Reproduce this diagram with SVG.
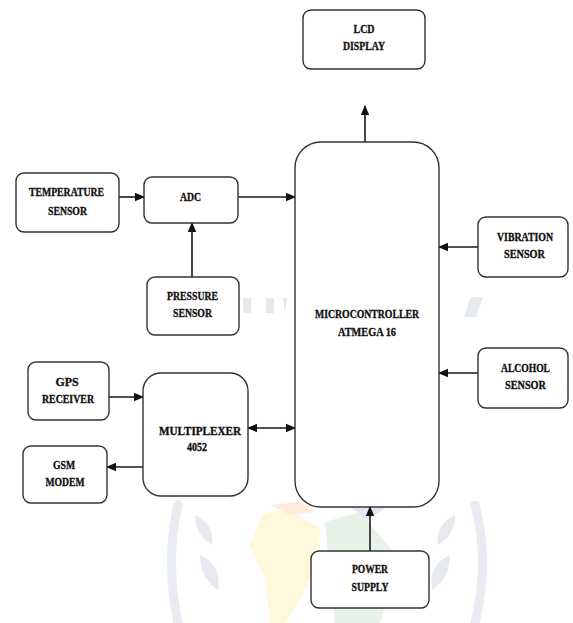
<svg xmlns="http://www.w3.org/2000/svg" width="573" height="623" viewBox="0 0 573 623">
  <style>
    .box { fill: #ffffff; stroke: #333333; stroke-width: 1.4; }
    .lbl { font-family: "Liberation Serif", "Times New Roman", serif; font-weight: bold; font-size: 12px; fill: #111111; stroke: #111111; stroke-width: 0.35; text-anchor: middle; }
    .wire { fill: none; stroke: #1a1a1a; stroke-width: 1.6; }
    .wm-grey { fill: #e2e6eb; }
    .wm-leaf { fill: none; stroke: #e5e9ee; stroke-width: 9; stroke-linecap: round; }
  </style>
  <defs>
    <marker id="arrow" markerUnits="userSpaceOnUse" markerWidth="10" markerHeight="10" viewBox="0 0 10 10" refX="9" refY="5" orient="auto">
      <path d="M0,0.8 L10,5 L0,9.2 Z" fill="#111111"/>
    </marker>
    <marker id="arrowStart" markerUnits="userSpaceOnUse" markerWidth="10" markerHeight="10" viewBox="0 0 10 10" refX="1" refY="5" orient="auto">
      <path d="M10,0.8 L0,5 L10,9.2 Z" fill="#111111"/>
    </marker>
  </defs>

  <rect width="573" height="623" fill="#ffffff"/>

  <!-- faint background emblem -->
  <g id="emblem" opacity="0.85">
    <rect class="wm-grey" x="243" y="298" width="8" height="15"/>
    <rect class="wm-grey" x="266" y="298" width="8" height="15"/>
    <path class="wm-grey" d="M283,298 L287,298 L285,313 Z"/>
    <path class="wm-grey" d="M471,297 L483,297 L476,317 L464,317 Z"/>
    <path fill="#fff7d6" d="M262,515 Q285,505 305,520 L320,528 L318,560 L300,600 L285,623 L270,623 L265,580 L250,545 Z"/>
    <path fill="#fde9d6" d="M270,505 L300,502 L315,512 L290,515 Z"/>
    <path fill="#e3f2e6" d="M325,522 L360,512 L400,560 L380,623 L335,623 Z"/>
    <path fill="#dfe2f3" d="M352,508 L385,508 L368,520 Z"/>
    <path class="wm-leaf" d="M178,505 Q165,560 178,623"/>
    <path class="wm-leaf" d="M475,505 Q490,560 475,623"/>
    <path class="wm-grey" d="M195,515 Q215,525 212,545 Q195,535 195,515 Z"/>
    <path class="wm-grey" d="M200,555 Q222,565 218,590 Q200,578 200,555 Z"/>
    <path class="wm-grey" d="M455,515 Q435,525 438,545 Q455,535 455,515 Z"/>
    <path class="wm-grey" d="M450,555 Q428,565 432,590 Q450,578 450,555 Z"/>
  </g>

  <!-- connectors -->
  <g id="connectors">
    <line class="wire" x1="365" y1="142" x2="365" y2="106" marker-end="url(#arrow)"/>
    <line class="wire" x1="119" y1="197" x2="144" y2="197" marker-end="url(#arrow)"/>
    <line class="wire" x1="238" y1="197" x2="295" y2="197" marker-end="url(#arrow)"/>
    <line class="wire" x1="192" y1="277" x2="192" y2="223" marker-end="url(#arrow)"/>
    <line class="wire" x1="109" y1="397" x2="143" y2="397" marker-end="url(#arrow)"/>
    <line class="wire" x1="143" y1="467" x2="107" y2="467" marker-end="url(#arrow)"/>
    <line class="wire" x1="248" y1="428" x2="295" y2="428" marker-start="url(#arrowStart)" marker-end="url(#arrow)"/>
    <line class="wire" x1="478" y1="247" x2="439" y2="247" marker-end="url(#arrow)"/>
    <line class="wire" x1="478" y1="373" x2="439" y2="373" marker-end="url(#arrow)"/>
    <line class="wire" x1="370" y1="551" x2="370" y2="507" marker-end="url(#arrow)"/>
  </g>

  <g id="lcd">
    <rect class="box" x="303" y="10" width="122" height="59" rx="8"/>
    <text class="lbl" x="364" y="33" textLength="21" lengthAdjust="spacingAndGlyphs">LCD</text>
    <text class="lbl" x="364" y="50" textLength="42" lengthAdjust="spacingAndGlyphs">DISPLAY</text>
  </g>

  <g id="temperature">
    <rect class="box" x="16" y="173" width="103" height="59" rx="8"/>
    <text class="lbl" x="66.5" y="196" textLength="75" lengthAdjust="spacingAndGlyphs">TEMPERATURE</text>
    <text class="lbl" x="67.5" y="215" textLength="39" lengthAdjust="spacingAndGlyphs">SENSOR</text>
  </g>

  <g id="adc">
    <rect class="box" x="144" y="177" width="94" height="46" rx="8"/>
    <text class="lbl" x="190.5" y="201" textLength="21" lengthAdjust="spacingAndGlyphs">ADC</text>
  </g>

  <g id="pressure">
    <rect class="box" x="147" y="277" width="92" height="58" rx="8"/>
    <text class="lbl" x="192.5" y="300" textLength="51" lengthAdjust="spacingAndGlyphs">PRESSURE</text>
    <text class="lbl" x="192.5" y="317" textLength="39" lengthAdjust="spacingAndGlyphs">SENSOR</text>
  </g>

  <g id="gps">
    <rect class="box" x="28" y="362" width="81" height="58" rx="8"/>
    <text class="lbl" x="67" y="386" textLength="23" lengthAdjust="spacingAndGlyphs">GPS</text>
    <text class="lbl" x="68" y="403" textLength="52" lengthAdjust="spacingAndGlyphs">RECEIVER</text>
  </g>

  <g id="gsm">
    <rect class="box" x="23" y="446" width="84" height="57" rx="8"/>
    <text class="lbl" x="64" y="469" textLength="22" lengthAdjust="spacingAndGlyphs">GSM</text>
    <text class="lbl" x="65" y="486" textLength="39" lengthAdjust="spacingAndGlyphs">MODEM</text>
  </g>

  <g id="multiplexer">
    <rect class="box" x="143" y="373" width="105" height="123" rx="18"/>
    <text class="lbl" x="200" y="435" textLength="82" lengthAdjust="spacingAndGlyphs">MULTIPLEXER</text>
    <text class="lbl" x="197" y="451" textLength="20" lengthAdjust="spacingAndGlyphs">4052</text>
  </g>

  <g id="microcontroller">
    <rect class="box" x="295" y="142" width="144" height="365" rx="26"/>
    <text class="lbl" x="367" y="318" textLength="104" lengthAdjust="spacingAndGlyphs">MICROCONTROLLER</text>
    <text class="lbl" x="367" y="336" textLength="58" lengthAdjust="spacingAndGlyphs">ATMEGA 16</text>
  </g>

  <g id="vibration">
    <rect class="box" x="478" y="217" width="90" height="60" rx="8"/>
    <text class="lbl" x="525" y="241" textLength="56" lengthAdjust="spacingAndGlyphs">VIBRATION</text>
    <text class="lbl" x="524.5" y="258" textLength="41" lengthAdjust="spacingAndGlyphs">SENSOR</text>
  </g>

  <g id="alcohol">
    <rect class="box" x="478" y="348" width="90" height="60" rx="8"/>
    <text class="lbl" x="525.5" y="372" textLength="49" lengthAdjust="spacingAndGlyphs">ALCOHOL</text>
    <text class="lbl" x="525.5" y="389" textLength="41" lengthAdjust="spacingAndGlyphs">SENSOR</text>
  </g>

  <g id="power">
    <rect class="box" x="311" y="551" width="118" height="57" rx="8"/>
    <text class="lbl" x="370" y="573" textLength="36" lengthAdjust="spacingAndGlyphs">POWER</text>
    <text class="lbl" x="370" y="591" textLength="37" lengthAdjust="spacingAndGlyphs">SUPPLY</text>
  </g>
</svg>
